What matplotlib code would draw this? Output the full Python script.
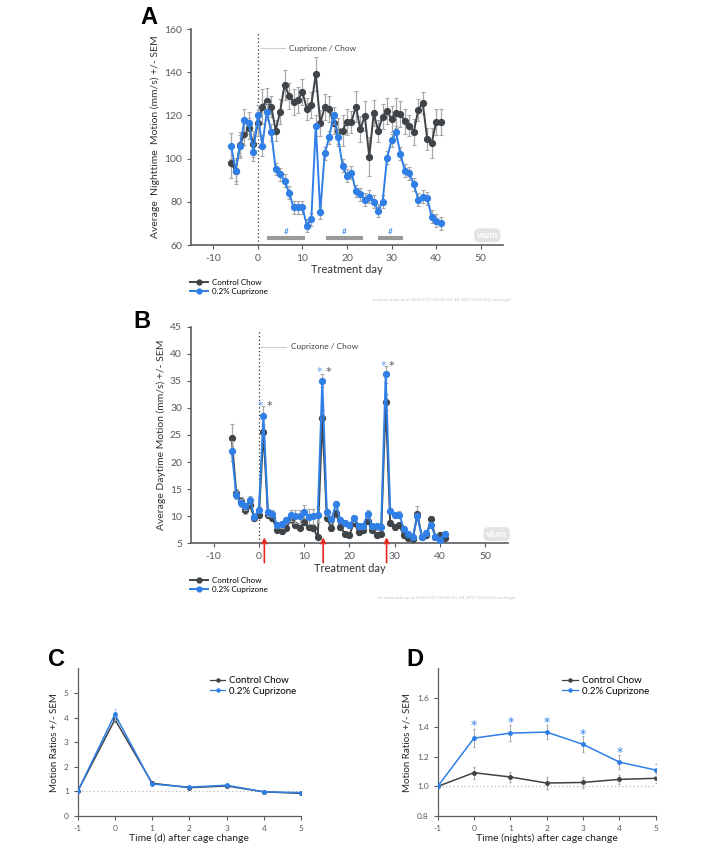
import numpy as np
import matplotlib
matplotlib.use('Agg')
import matplotlib.pyplot as plt
from matplotlib.lines import Line2D

plt.rcParams['font.family'] = ['Lato', 'DejaVu Sans']
plt.rcParams['axes.unicode_minus'] = False

# ---- data: panel A (nighttime motion, mm/s) ----
days = list(range(-6, 42))
ctrl_night = [97.9, 94.3, 106.4, 111.5, 114.0, 106.7, 116.4, 124.1, 126.9, 124.1, 113.0, 121.8,
              134.2, 129.2, 126.2, 127.2, 130.8, 123.0, 124.9, 139.1, 116.4, 123.8, 123.0, 116.4,
              113.0, 113.0, 117.0, 117.0, 124.1, 113.6, 119.8, 100.9, 121.1, 112.9, 119.5, 122.1,
              118.3, 121.1, 120.7, 117.2, 115.3, 112.5, 122.6, 125.7, 109.1, 107.1, 116.9, 117.0]
ctrl_night_sem = [7, 6, 6, 5, 5, 6, 6, 8, 6, 5, 5, 6, 7, 6, 6, 6, 6, 5, 6, 8, 6, 6, 6, 5,
                  6, 7, 6, 5, 7, 6, 7, 9, 6, 5, 6, 6, 6, 7, 6, 6, 5, 6, 5, 5, 5, 7, 6, 6]
cup_night = [106.0, 94.5, 106.0, 118.0, 116.4, 103.0, 120.0, 106.0, 121.8, 112.2, 95.2, 92.8,
             89.7, 84.2, 77.5, 77.5, 77.5, 69.0, 72.0, 115.3, 75.2, 102.5, 109.9, 120.0,
             110.0, 96.8, 92.0, 93.5, 85.0, 83.5, 80.9, 82.4, 80.1, 75.9, 80.1, 100.5,
             108.4, 112.1, 102.2, 94.3, 93.2, 88.1, 80.9, 82.4, 81.6, 73.1, 71.3, 70.1]
cup_night_sem = [6, 5, 5, 5, 5, 4, 5, 5, 4, 4, 3, 3, 3, 3, 3, 3, 3, 3, 3, 5, 3, 3, 3, 4,
                 4, 3, 3, 3, 3, 3, 3, 3, 3, 3, 3, 3, 3, 3, 3, 3, 3, 3, 3, 3, 3, 3, 3, 3]
bar_spans = [(2.1, 10.5), (15.2, 23.6), (27.0, 32.6)]

# ---- data: panel B (daytime motion, mm/s) ----
ctrl_day = [24.4, 14.2, 12.9, 11.1, 12.1, 9.6, 10.2, 25.5, 10.2, 9.6, 7.5, 7.3,
            7.8, 9.4, 8.4, 7.9, 9.0, 8.0, 7.8, 6.1, 28.1, 9.7, 7.8, 10.6,
            8.0, 6.8, 6.6, 8.8, 7.1, 7.4, 9.2, 7.5, 6.5, 6.8, 31.1, 8.8,
            8.0, 8.3, 6.5, 6.0, 5.8, 10.5, 6.1, 6.5, 9.4, 6.1, 6.5, 6.0]
ctrl_day_sem = [2.6, 0.8, 0.6, 0.6, 0.6, 0.5, 0.5, 1.5, 0.5, 0.5, 0.5, 0.5,
                0.5, 0.6, 0.5, 0.5, 0.6, 0.5, 0.5, 0.4, 1.5, 0.5, 0.5, 0.6,
                0.5, 0.5, 0.5, 0.5, 0.5, 0.5, 0.6, 0.5, 0.5, 0.5, 1.5, 0.5,
                0.5, 0.5, 0.5, 0.4, 0.4, 1.3, 0.4, 0.5, 0.6, 0.4, 0.5, 0.4]
cup_day = [22.0, 13.9, 12.4, 11.8, 13.0, 9.9, 11.2, 28.5, 10.7, 10.5, 8.4, 8.5,
           9.3, 10.2, 10.0, 10.0, 10.8, 9.9, 10.0, 10.3, 35.0, 10.7, 9.4, 12.2,
           9.3, 8.7, 8.4, 9.6, 8.1, 8.2, 10.4, 8.2, 8.1, 8.0, 36.2, 11.0,
           10.2, 10.3, 7.7, 6.8, 6.2, 10.0, 6.2, 6.9, 8.4, 6.2, 5.6, 6.8]
cup_day_sem = [1.8, 0.8, 0.7, 0.7, 0.7, 0.5, 0.6, 1.9, 0.6, 0.6, 0.6, 0.6,
               0.6, 1.0, 1.2, 1.2, 1.2, 1.4, 1.4, 1.4, 1.2, 0.6, 0.6, 0.7,
               0.6, 0.6, 0.6, 0.6, 0.5, 0.5, 0.7, 0.5, 0.6, 0.6, 1.6, 0.6,
               0.6, 0.6, 0.5, 0.5, 0.5, 0.6, 0.5, 0.5, 0.6, 0.5, 0.5, 0.5]
spike_days = [1, 14, 28]
star_levels = [30.9, 37.3, 38.4]

# ---- data: panels C and D (motion ratios) ----
t_change = [-1, 0, 1, 2, 3, 4, 5]
ctrl_c = [1.0, 3.92, 1.33, 1.15, 1.22, 0.98, 0.92]
ctrl_c_sem = [0.0, 0.10, 0.04, 0.03, 0.03, 0.02, 0.03]
cup_c = [1.0, 4.13, 1.30, 1.17, 1.25, 0.98, 0.95]
cup_c_sem = [0.0, 0.22, 0.05, 0.04, 0.05, 0.03, 0.03]

ctrl_d = [1.0, 1.093, 1.064, 1.023, 1.027, 1.048, 1.055]
ctrl_d_sem = [0.0, 0.04, 0.035, 0.04, 0.035, 0.03, 0.035]
cup_d = [1.0, 1.327, 1.361, 1.368, 1.285, 1.165, 1.111]
cup_d_sem = [0.0, 0.06, 0.055, 0.05, 0.055, 0.045, 0.04]
star_d = [1.42, 1.44, 1.44, 1.365, 1.24]

DARK = '#3f4448'
BLUE = '#2f7fe6'
ERR = '#a8a8a8'
TICK = '#555b60'

fig = plt.figure(figsize=(7.09, 8.44), dpi=100)


def style_axes(ax, fs=7.5):
    for s in ['top', 'right']:
        ax.spines[s].set_visible(False)
    for s in ['left', 'bottom']:
        ax.spines[s].set_color('#5a5f63')
        ax.spines[s].set_linewidth(1.2)
    ax.tick_params(colors=TICK, labelsize=fs, length=3, width=0.8)


def vium(ax, x, y):
    ax.text(x, y, 'vium', fontsize=7, fontweight='bold', color='white', ha='center', va='center',
            bbox=dict(boxstyle='round,pad=0.25,rounding_size=0.5', fc='#e3e3e3', ec='none'))


# ---------------- Panel A ----------------
axA = fig.add_axes([0.2694, 0.7097, 0.44, 0.2559])
style_axes(axA)
axA.errorbar(days, ctrl_night, yerr=ctrl_night_sem, color=DARK, ecolor=ERR, elinewidth=0.9,
             capsize=1.5, capthick=0.8, marker='o', ms=4.2, lw=1.4, zorder=3)
axA.errorbar(days, cup_night, yerr=cup_night_sem, color=BLUE, ecolor=ERR, elinewidth=0.9,
             capsize=1.5, capthick=0.8, marker='o', ms=4.2, lw=1.4, zorder=4)
axA.axvline(0, ymin=0, ymax=0.98, color='#333333', ls=(0, (1, 2)), lw=0.9)
axA.plot([0.75, 6], [151, 151], color='#cccccc', lw=0.8)
axA.text(7.1, 151, 'Cuprizone / Chow', fontsize=6, color='#444444', va='center')
for a, b in bar_spans:
    axA.plot([a, b], [63.4, 63.4], color='#9a9a9a', lw=3, solid_capstyle='butt')
    axA.text((a + b) / 2, 64.6, '#', fontsize=6, color=BLUE, ha='center', va='bottom')
vium(axA, 51.5, 64.5)
axA.set_xlim(-15, 55)
axA.set_ylim(60, 160)
axA.set_xticks([-10, 0, 10, 20, 30, 40, 50])
axA.set_yticks([60, 80, 100, 120, 140, 160])
axA.set_xlabel('Treatment day', fontsize=8, color='#333333', labelpad=1)
axA.set_ylabel('Average  Nighttime  Motion (mm/s) +/- SEM', fontsize=7.5, color='#333333', labelpad=3)

handles = [Line2D([], [], color=DARK, marker='o', ms=3.5, lw=1.4),
           Line2D([], [], color=BLUE, marker='o', ms=3.5, lw=1.4)]
fig.legend(handles, ['Control Chow', '0.2% Cuprizone'], loc='upper left',
           bbox_to_anchor=(0.262, 1 - 275 / 844), frameon=False, fontsize=5.8,
           handlelength=2.2, handletextpad=0.5, labelspacing=0.2, borderpad=0)
fig.text(0.72, 1 - 299.5 / 844, 'Includes data up to 18:00 UTC-07:00 Oct 18, 2017 (100.00% coverage)',
         fontsize=3.2, color='#c4c4c4', ha='right', va='center')

# ---------------- Panel B ----------------
axB = fig.add_axes([0.2694, 0.3563, 0.447, 0.2566])
style_axes(axB)
axB.errorbar(days, ctrl_day, yerr=ctrl_day_sem, color=DARK, ecolor=ERR, elinewidth=0.9,
             capsize=1.5, capthick=0.8, marker='o', ms=4.2, lw=1.4, zorder=3)
axB.errorbar(days, cup_day, yerr=cup_day_sem, color=BLUE, ecolor=ERR, elinewidth=0.9,
             capsize=1.5, capthick=0.8, marker='o', ms=4.2, lw=1.4, zorder=4)
axB.axvline(0, ymin=0, ymax=0.98, color='#333333', ls=(0, (1, 2)), lw=0.9)
axB.plot([0.5, 5.9], [41.3, 41.3], color='#cccccc', lw=0.8)
axB.text(7.1, 41.3, 'Cuprizone / Chow', fontsize=6, color='#444444', va='center')
for d, lev in zip(spike_days, star_levels):
    axB.text(d - 0.6, lev - 0.6, '*', fontsize=8, color='#6d9ef0', ha='center', va='center',
             family='DejaVu Sans')
    axB.text(d + 1.3, lev - 0.6, '*', fontsize=8, color='#555555', ha='center', va='center',
             family='DejaVu Sans')
    axB.annotate('', xy=(d + 0.2, 6.6), xytext=(d + 0.2, 0.9), annotation_clip=False,
                 arrowprops=dict(arrowstyle='->', color='#e8261c', lw=1.2, mutation_scale=8))
vium(axB, 52.5, 6.7)
axB.set_xlim(-15, 55)
axB.set_ylim(5, 45)
axB.set_xticks([-10, 0, 10, 20, 30, 40, 50])
axB.set_yticks([5, 10, 15, 20, 25, 30, 35, 40, 45])
axB.set_xlabel('Treatment day', fontsize=8, color='#333333', labelpad=1)
axB.set_ylabel('Average Daytime Motion (mm/s) +/- SEM', fontsize=7.5, color='#333333', labelpad=3)

fig.legend(handles, ['Control Chow', '0.2% Cuprizone'], loc='upper left',
           bbox_to_anchor=(0.262, 1 - 573 / 844), frameon=False, fontsize=5.8,
           handlelength=2.2, handletextpad=0.5, labelspacing=0.2, borderpad=0)
fig.text(0.726, 1 - 597.5 / 844, 'Includes data up to 18:00 UTC-07:00 Oct 18, 2017 (100.00% coverage)',
         fontsize=3.2, color='#c4c4c4', ha='right', va='center')

# ---------------- Panel C ----------------
small_handles = [Line2D([], [], color=DARK, marker='o', ms=2.2, lw=0.9),
                 Line2D([], [], color=BLUE, marker='o', ms=2.2, lw=0.9)]

axC = fig.add_axes([0.1096, 0.0332, 0.315, 0.175])
style_axes(axC, fs=6)
axC.spines['left'].set_linewidth(0.9)
axC.spines['bottom'].set_linewidth(0.9)
axC.axhline(1, color='#b8b8b8', ls=(0, (1, 2)), lw=0.9, zorder=1)
axC.errorbar(t_change, ctrl_c, yerr=ctrl_c_sem, color=DARK, ecolor=ERR, elinewidth=0.7,
             capsize=1, marker='o', ms=2.5, lw=1.1, zorder=3)
axC.errorbar(t_change, cup_c, yerr=cup_c_sem, color=BLUE, ecolor='#a9c7ef', elinewidth=0.7,
             capsize=1, marker='o', ms=2.5, lw=1.1, zorder=4)
axC.set_xlim(-1, 5)
axC.set_ylim(0, 6)
axC.set_xticks(t_change)
axC.set_yticks([0, 1, 2, 3, 4, 5])
axC.set_xlabel('Time (d) after cage change', fontsize=7.5, color='#222222', labelpad=1)
axC.set_ylabel('Motion Ratios +/- SEM', fontsize=7, color='#222222', labelpad=4)
axC.legend(small_handles, ['Control Chow', '0.2% Cuprizone'], loc='upper left',
           bbox_to_anchor=(0.57, 0.98), frameon=False, fontsize=7,
           handlelength=1.6, handletextpad=0.4, labelspacing=0.15, borderpad=0)

# ---------------- Panel D ----------------
axD = fig.add_axes([0.6173, 0.0332, 0.3075, 0.175])
style_axes(axD, fs=6)
axD.spines['left'].set_linewidth(0.9)
axD.spines['bottom'].set_linewidth(0.9)
axD.axhline(1, color='#b8b8b8', ls=(0, (1, 2)), lw=0.9, zorder=1)
axD.errorbar(t_change, ctrl_d, yerr=ctrl_d_sem, color=DARK, ecolor=ERR, elinewidth=0.7,
             capsize=1, marker='o', ms=2.5, lw=1.1, zorder=3)
axD.errorbar(t_change, cup_d, yerr=cup_d_sem, color=BLUE, ecolor=ERR, elinewidth=0.7,
             capsize=1, marker='o', ms=2.5, lw=1.1, zorder=4)
for t, s in zip(t_change[1:6], star_d):
    axD.text(t, s - 0.01, '*', fontsize=9, color=BLUE, ha='center', va='center',
             family='DejaVu Sans')
axD.set_xlim(-1, 5)
axD.set_ylim(0.8, 1.8)
axD.set_xticks(t_change)
axD.set_yticks([0.8, 1.0, 1.2, 1.4, 1.6])
axD.set_xlabel('Time (nights) after cage change', fontsize=7.5, color='#222222', labelpad=1)
axD.set_ylabel('Motion Ratios +/- SEM', fontsize=7, color='#222222', labelpad=4)
axD.legend(small_handles, ['Control Chow', '0.2% Cuprizone'], loc='upper left',
           bbox_to_anchor=(0.55, 0.98), frameon=False, fontsize=7,
           handlelength=1.6, handletextpad=0.4, labelspacing=0.15, borderpad=0)

# panel letters
for lab, x, y in [('A', 140, 17), ('B', 133, 322), ('C', 48, 660), ('D', 406, 660)]:
    fig.text(x / 709, 1 - y / 844, lab, fontsize=17, fontweight='bold',
             family='Liberation Sans', ha='left', va='center')

fig.savefig('out.png', dpi=100)
